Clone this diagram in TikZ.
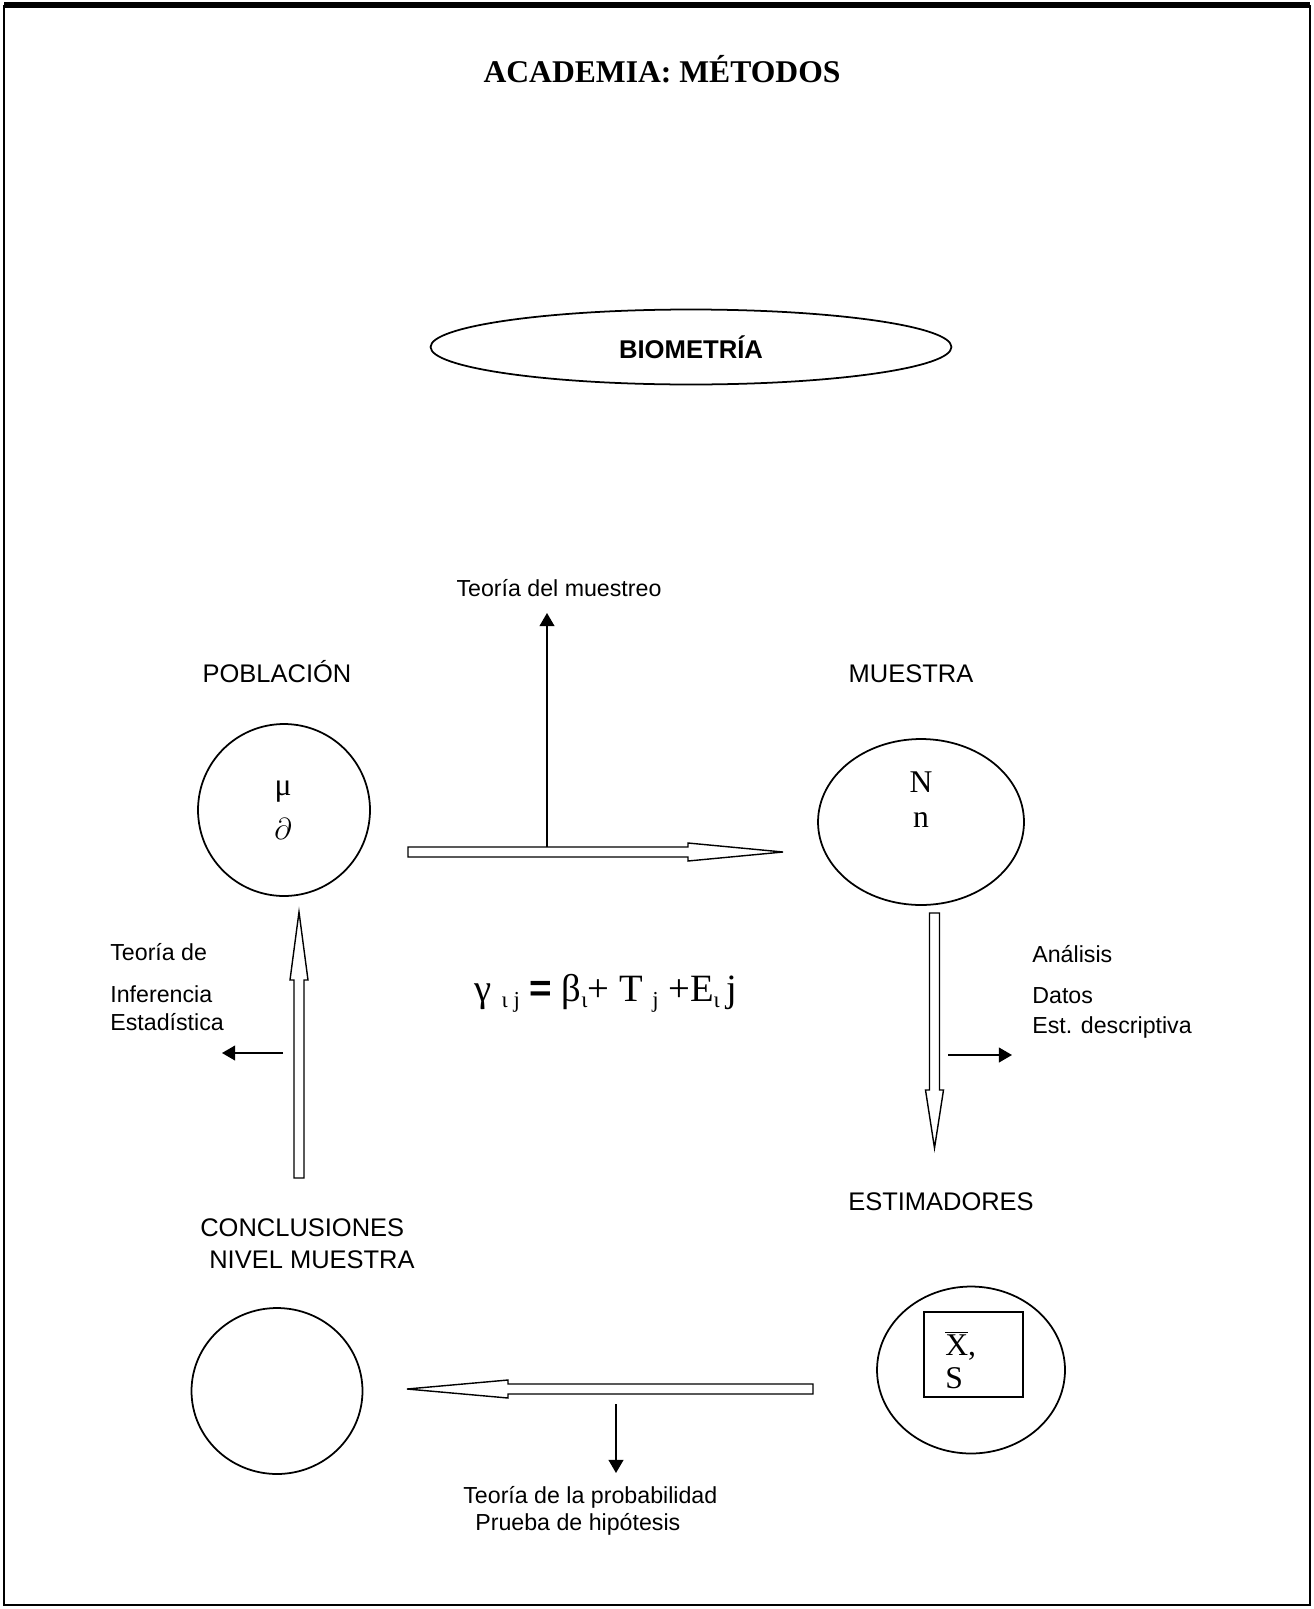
\documentclass[tikz,border=0pt]{standalone}
\usepackage{fontspec}
\setmainfont{Liberation Serif}
\setsansfont{Liberation Sans}
\usetikzlibrary{arrows.meta, shapes.geometric, positioning}
\tikzstyle{every node}=[inner sep=0pt]
\tikzstyle{lbl}=[font=\sffamily\fontsize{13.2}{15}\selectfont]
\tikzstyle{caps}=[font=\sffamily\fontsize{14.5}{17}\selectfont]
\tikzstyle{sym}=[font=\fontsize{18}{20}\selectfont]
\tikzstyle{ring}=[draw, ellipse, line width=1pt]
\tikzstyle{thin}=[-{Triangle[length=7.5pt,width=8.5pt]}, line width=0.8pt]
\tikzstyle{hollow}=[draw, line width=0.8pt, fill=white, line join=miter]

\newcommand{\lowidx}[1]{\raisebox{-0.35ex}{\fontsize{13}{13}\selectfont #1}}
% start, angle, length, head length
\newcommand{\hollowarrow}[4]{%
  \draw[hollow, shift={(#1)}, rotate=#2] (0,-5) -- (#3-#4,-5) -- (#3-#4,-9) -- (#3,0)
    -- (#3-#4,9) -- (#3-#4,5) -- (0,5) -- cycle;}

\begin{document}
\begin{tikzpicture}[x=0.02cm, y=-0.02cm]
  \useasboundingbox (0,0) rectangle (1314,1609);
  \draw[line width=1.6pt] (4,6) rectangle (1310,1605);
  \draw[line width=3pt] (4,5) -- (1310,5);

  \node (title) at (662,69) {\fontsize{18}{20}\selectfont\bfseries ACADEMIA: MÉTODOS};
  \node[ring, minimum width=10.42cm, minimum height=1.5cm] (bio) at (691,347)
    {\sffamily\bfseries\fontsize{14.6}{16}\selectfont BIOMETRÍA};

  \node[ring, minimum width=3.44cm, minimum height=3.44cm] (pob) at (284,810) {};
  \node[ring, minimum width=4.12cm, minimum height=3.32cm] (mue) at (921,822) {};
  \node[ring, minimum width=3.76cm, minimum height=3.34cm] (est) at (971,1370) {};
  \node[ring, minimum width=3.42cm, minimum height=3.32cm] (conc) at (277,1391) {};

  \node[caps] (poblab) at (277,672) {POBLACIÓN};
  \node[caps] (muelab) at (911,674) {MUESTRA};
  \node[caps] (estlab) at (941,1202) {ESTIMADORES};
  \node[caps, anchor=west] (conclab) at (200,1228) {CONCLUSIONES};
  \node[caps, anchor=west] (nivlab) at (209,1260) {NIVEL MUESTRA};

  \node[sym] (mu) at (283,792) {μ};
  \node[sym] (part) at (283,829) {$\partial$};
  \node[sym] (bign) at (921,782) {N};
  \node[sym] (smalln) at (921,820) {n};
  \node[draw, line width=1pt, minimum width=1.98cm, minimum height=1.7cm] (box) at (973.5,1354.5) {};
  \node[sym, align=left, anchor=west] (xbars) at (945,1360) {$\overline{\hbox{X}}$,\\[-1pt]S};

  \node (formula) at (606,993)
    {\fontsize{22}{24}\selectfont γ\ \lowidx{ι j} {\sffamily\bfseries =} β\lowidx{ι}+ T \lowidx{j} +E\lowidx{ι}\,j};

  \node[lbl] (teomuestreo) at (559,588) {Teoría del muestreo};
  \node[lbl, anchor=west] (teode) at (110,952) {Teoría de};
  \node[lbl, anchor=west] (infer) at (110,994) {Inferencia};
  \node[lbl, anchor=west] (estad) at (110,1022) {Estadística};
  \node[lbl, anchor=west] (anal) at (1032,954) {Análisis};
  \node[lbl, anchor=west] (datos) at (1032,996) {Datos};
  \node[lbl, anchor=west] (estdesc) at (1032,1027) {Est. descriptiva};
  \node[lbl, anchor=west] (teoprob) at (463,1497) {Teoría de la probabilidad};
  \node[lbl, anchor=west] (prueba) at (475,1524) {Prueba de hipótesis};

  \coordinate (h1) at (408,852);
  \coordinate (h2) at (934.5,913);
  \coordinate (h3) at (813,1389);
  \coordinate (h4) at (299,1178);
  \hollowarrow{h1}{0}{375}{95}
  \hollowarrow{h2}{-90}{235}{58}
  \hollowarrow{h3}{180}{406}{101}
  \hollowarrow{h4}{90}{266}{68}

  \coordinate (t1a) at (547,847);   \coordinate (t1b) at (547,613);
  \coordinate (t2a) at (948,1055);  \coordinate (t2b) at (1012,1055);
  \coordinate (t3a) at (283,1053);  \coordinate (t3b) at (222,1053);
  \coordinate (t4a) at (616,1404);  \coordinate (t4b) at (616,1473);
  \draw[thin] (t1a) -- (t1b);
  \draw[thin] (t2a) -- (t2b);
  \draw[thin] (t3a) -- (t3b);
  \draw[thin] (t4a) -- (t4b);
\end{tikzpicture}
\end{document}
